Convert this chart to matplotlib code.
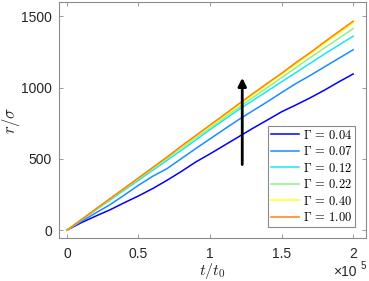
import numpy as np
import matplotlib.pyplot as plt

plt.rcParams['font.family'] = 'Liberation Sans'
plt.rcParams['mathtext.fontset'] = 'cm'

# tiempo en unidades de 1e5 t0
t = [0.0, 0.1, 0.2, 0.3, 0.4, 0.5, 0.6, 0.7, 0.8, 0.9, 1.0,
     1.1, 1.2, 1.3, 1.4, 1.5, 1.6, 1.7, 1.8, 1.9, 2.0]

r_004 = [0, 52, 98, 142, 192, 240, 292, 350, 412, 478, 535,
         595, 655, 715, 772, 830, 878, 928, 982, 1040, 1095]
r_007 = [0, 60, 120, 178, 245, 315, 378, 432, 502, 572, 640,
         708, 775, 838, 900, 965, 1028, 1085, 1145, 1205, 1265]
r_012 = [0, 70, 140, 210, 280, 350, 420, 490, 560, 632, 705,
         775, 845, 910, 975, 1040, 1105, 1170, 1235, 1298, 1360]
r_022 = [0, 72, 144, 216, 288, 360, 432, 504, 576, 648, 718,
         790, 860, 930, 1000, 1070, 1140, 1210, 1278, 1345, 1413]
r_040 = [0, 73, 146, 219, 292, 365, 438, 511, 584, 657, 728,
         800, 875, 948, 1020, 1092, 1164, 1236, 1310, 1382, 1453]
r_100 = [0, 73, 147, 220, 293, 366, 440, 513, 590, 663, 737,
         810, 885, 958, 1030, 1100, 1175, 1245, 1320, 1393, 1465]

gammas = ['0.04', '0.07', '0.12', '0.22', '0.40', '1.00']
series = [r_004, r_007, r_012, r_022, r_040, r_100]
colores = ['#0000ff', '#1a8cff', '#1ae6f0', '#8cf08c', '#ffff1a', '#ff7f0a']

# flecha (tendencia con Gamma)
flecha_t = 1.225
flecha_r = (460, 1068)

fig = plt.figure(figsize=(3.69, 2.81), dpi=100)
ax = fig.add_axes([0.160, 0.153, 0.832, 0.840])

for r, c, g in zip(series, colores, gammas):
    ax.plot(t, r, color=c, lw=1.1, label=r'$\Gamma\,=\,%s$' % g)

ax.annotate('', xy=(flecha_t, flecha_r[1]), xytext=(flecha_t, flecha_r[0]),
            arrowprops=dict(arrowstyle='-|>', color='k', lw=2.0,
                            mutation_scale=12, shrinkA=0, shrinkB=0))

ax.set_xlim(-0.055, 2.09)
ax.set_ylim(-55, 1600)
ax.set_xticks([0, 0.5, 1, 1.5, 2])
ax.set_xticklabels(['0', '0.5', '1', '1.5', '2'])
ax.set_yticks([0, 500, 1000, 1500])

gris = '#8c8c8c'
for s in ax.spines.values():
    s.set_color(gris)
    s.set_linewidth(0.8)
ax.tick_params(direction='in', length=3, width=0.6, color=gris,
               labelcolor='#262626', labelsize=10, top=True, right=True, pad=5)
ax.tick_params(axis='x', pad=6.5)

ax.set_xlabel(r'$t/t_0$', fontsize=11.5, color='#262626')
ax.set_ylabel(r'$r/\sigma$', fontsize=12, color='#262626')
ax.xaxis.set_label_coords(0.5, -0.097)
ax.yaxis.set_label_coords(-0.122, 0.5)

fig.text(0.903, 0.008, '×10', fontsize=10, color='#262626', va='bottom')
fig.text(0.978, 0.034, '5', fontsize=7, color='#262626', va='bottom')

leg = ax.legend(loc='lower right', bbox_to_anchor=(0.965, 0.045), fontsize=9,
                frameon=True, fancybox=False, framealpha=1, edgecolor=gris,
                handlelength=2.2, handletextpad=0.3, labelspacing=0.28,
                borderpad=0.25, borderaxespad=0)
leg.get_frame().set_linewidth(0.8)

fig.savefig('out.png', dpi=100)
